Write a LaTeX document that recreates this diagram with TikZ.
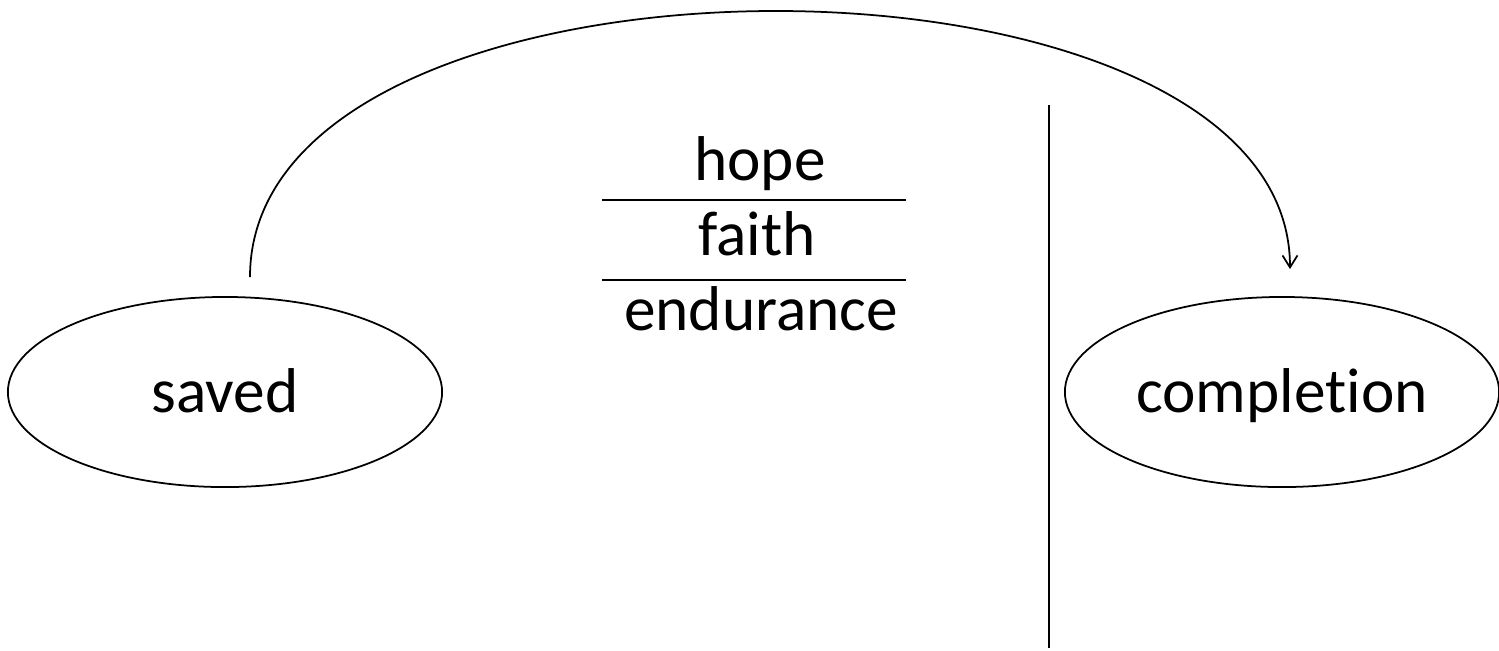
\documentclass[tikz,border=0pt]{standalone}
\usepackage{fontspec}
\setmainfont{Carlito}[Ligatures=NoCommon]
\usetikzlibrary{arrows.meta,positioning,calc,shapes.geometric}
\tikzset{
  stage/.style={draw,ellipse,line width=.5pt,minimum width=4.34cm,minimum height=1.9cm,
    inner sep=0pt,font=\fontsize{18}{22}\selectfont,text height=.5cm,text depth=.1cm},
  virtue/.style={anchor=base,font=\fontsize{18}{22}\selectfont},
  link/.style={line width=.5pt,-{Straight Barb[length=1.2mm,width=1.5mm]}}
}

\begin{document}
\begin{tikzpicture}[x=.01cm,y=-.01cm]
\useasboundingbox (0,0) rectangle (1499,650);
\node[stage] (saved) at (225,392) {saved};
\node[stage] (completion) at (1282,392) {completion};
\node[virtue] (hope) at (760,180) {hope};
\node[virtue] (faith) at (757,255) {faith};
\node[virtue] (endurance) at (761,330) {endurance};
\draw[line width=.6pt] (602,200) -- (906,200);
\draw[line width=.6pt] (602,280) -- (906,280);
\draw[line width=.5pt] (1049,105) -- (1049,648);
\draw[link] ([shift={(25,-19)}]saved.north) .. controls +(0,-353) and +(0,-345) .. ([shift={(8,-27)}]completion.north);
\end{tikzpicture}
\end{document}
